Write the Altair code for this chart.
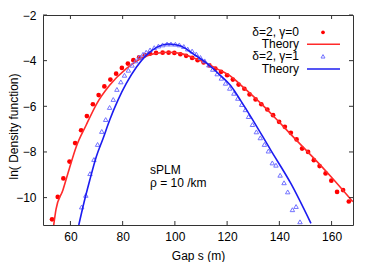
import altair as alt
import pandas as pd

# ---- data ----
RED_X = [52.96, 55.15, 57.3, 59.65, 61.8, 64.1, 66.3, 68.6, 70.8, 73.0, 75.3, 77.5, 79.7,
         82.0, 84.1, 86.3, 88.5, 90.5, 92.8, 95.3, 97.6, 99.8, 102.1, 104.3, 106.6, 108.7,
         111.0, 113.2, 115.5, 117.7, 120.0, 122.2, 124.4, 126.6, 128.6, 130.9, 133.1, 135.4,
         137.6, 139.9, 142.1, 144.4, 146.6, 148.7, 151.0, 153.2, 155.4, 157.7, 159.9, 162.1,
         164.4, 166.6]
RED_Y = [-10.95, -9.97, -9.16, -8.42, -7.61, -7.05, -6.43, -5.91, -5.51, -5.13, -4.83, -4.57,
         -4.32, -4.13, -3.98, -3.86, -3.76, -3.69, -3.66, -3.65, -3.65, -3.66, -3.72, -3.79,
         -3.88, -3.98, -4.08, -4.21, -4.35, -4.49, -4.64, -4.83, -5.05, -5.23, -5.48, -5.70,
         -5.91, -6.14, -6.39, -6.68, -6.90, -7.16, -7.45, -7.85, -8.00, -8.36, -8.62, -8.94,
         -9.26, -9.75, -9.67, -10.17]

BLUE_X = [64.3, 65.9, 67.5, 69.0, 70.4, 72.0, 73.5, 75.0, 76.4, 77.8, 79.3, 80.7, 82.2, 83.6,
          85.0, 86.4, 87.8, 89.0, 90.5, 92.1, 93.7, 95.3, 97.0, 98.5, 100.2, 101.7, 103.4,
          104.9, 106.6, 108.2, 109.8, 111.4, 113.0, 114.5, 116.2, 117.8, 119.4, 121.0, 122.6,
          124.1, 125.6, 127.0, 128.2, 129.7, 131.2, 132.7, 134.3, 135.8, 137.3, 138.7, 140.3,
          141.8, 143.2, 145.0, 146.4, 147.9]
BLUE_Y = [-10.41, -9.9, -8.95, -8.33, -7.67, -7.1, -6.58, -6.05, -5.70, -5.26, -4.93, -4.64,
          -4.42, -4.20, -4.01, -3.84, -3.72, -3.63, -3.53, -3.43, -3.36, -3.31, -3.27, -3.27,
          -3.28, -3.31, -3.38, -3.49, -3.58, -3.71, -3.86, -4.01, -4.19, -4.38, -4.58, -4.77,
          -4.99, -5.21, -5.43, -5.65, -5.92, -6.15, -6.45, -6.8, -7.12, -7.38, -7.67, -7.96,
          -8.48, -8.58, -9.02, -9.35, -9.75, -10.53, -10.39, -11.06]

RED_TH_X = [53.6, 54.5, 57.1, 59.6, 62.2, 66.0, 70.0, 75.0, 81.4, 87.8, 92.0, 97.0, 102.0,
            108.0, 112.4, 116.0, 120.8, 127.0, 133.6, 140.0, 146.5, 153.0, 159.8, 168.1]
RED_TH_Y = [-11.2, -10.5, -9.68, -8.72, -7.78, -6.83, -5.9, -5.08, -4.35, -3.86, -3.7, -3.63,
            -3.68, -3.92, -4.13, -4.35, -4.64, -5.25, -5.95, -6.7, -7.48, -8.25, -9.09, -10.18]

BLUE_TH_X = [63.2, 64.8, 67.4, 69.9, 72.5, 75.0, 78.2, 81.4, 85.3, 89.1, 93.0, 97.6, 102.0,
             107.0, 112.4, 117.0, 121.4, 125.2, 129.1, 136.7, 144.4, 152.1]
BLUE_TH_Y = [-11.2, -10.4, -9.24, -8.21, -7.41, -6.61, -5.73, -5.0, -4.28, -3.76, -3.42, -3.27,
             -3.35, -3.7, -4.13, -4.6, -5.1, -5.75, -6.46, -7.92, -9.38, -11.13]

XTICKS = [60, 80, 100, 120, 140, 160]
YTICKS = [-2, -4, -6, -8, -10]
LEGEND_LABELS = ["δ=2, γ=0", "Theory", "δ=2, γ=1", "Theory"]
NOTE_LINES = ["sPLM", "ρ = 10 /km"]
X_TITLE = "Gap s (m)"
Y_TITLE = "ln( Density function)"

FONT = "Liberation Sans"
W, H = 310, 210
RED, RED_LINE = "#ff0000", "#ff2a2a"
BLUE_LINE, BLUE_PT = "#1c1cf0", "#7373ff"

xs = alt.Scale(domain=[49.5, 168.2], nice=False, zero=False)
ys = alt.Scale(domain=[-11.2, -2], nice=False, zero=False)

red_df = pd.DataFrame({"x": RED_X, "y": RED_Y})
blue_df = pd.DataFrame({"x": BLUE_X, "y": BLUE_Y})
rth_df = pd.DataFrame({"x": RED_TH_X, "y": RED_TH_Y})
bth_df = pd.DataFrame({"x": BLUE_TH_X, "y": BLUE_TH_Y})

xax = alt.Axis(values=XTICKS, title=X_TITLE, ticks=False, grid=False, domain=False,
               labelPadding=6, titlePadding=8, labelFontSize=12, titleFontSize=12,
               labelFont=FONT, titleFont=FONT, labelColor="black", titleColor="black",
               titleFontWeight="normal")
yax = alt.Axis(values=YTICKS, title=Y_TITLE, ticks=False, grid=False, domain=False,
               labelPadding=7, labelFontSize=12, titleFontSize=12,
               titleX=-29.5, titleY=111, titleAngle=270, titleBaseline="middle",
               titleAlign="center",
               labelFont=FONT, titleFont=FONT, labelColor="black", titleColor="black",
               titleFontWeight="normal")

base_red = alt.Chart(red_df).mark_point(shape="circle", filled=True, size=22, color=RED,
                                         opacity=1, clip=True).encode(
    x=alt.X("x:Q", scale=xs, axis=xax), y=alt.Y("y:Q", scale=ys, axis=yax))
rth = alt.Chart(rth_df).mark_line(color=RED_LINE, strokeWidth=1.6, clip=True,
                                   interpolate="monotone").encode(
    x=alt.X("x:Q", scale=xs), y=alt.Y("y:Q", scale=ys))
blue = alt.Chart(blue_df).mark_point(shape="triangle-up", filled=False, size=20,
                                      color=BLUE_PT, strokeWidth=1, opacity=1, clip=True).encode(
    x=alt.X("x:Q", scale=xs), y=alt.Y("y:Q", scale=ys))
bth = alt.Chart(bth_df).mark_line(color=BLUE_LINE, strokeWidth=1.6, clip=True,
                                   interpolate="monotone").encode(
    x=alt.X("x:Q", scale=xs), y=alt.Y("y:Q", scale=ys))

# inward ticks on all four sides
xt_df = pd.DataFrame({"x": XTICKS})
yt_df = pd.DataFrame({"y": YTICKS})
TC = "#333333"
tb = alt.Chart(xt_df).mark_rule(color=TC, strokeWidth=1).encode(
    x=alt.X("x:Q", scale=xs), y=alt.value(H), y2=alt.value(H - 4))
tt = alt.Chart(xt_df).mark_rule(color=TC, strokeWidth=1).encode(
    x=alt.X("x:Q", scale=xs), y=alt.value(0), y2=alt.value(4))
tl = alt.Chart(yt_df).mark_rule(color=TC, strokeWidth=1).encode(
    y=alt.Y("y:Q", scale=ys), x=alt.value(0), x2=alt.value(4))
tr = alt.Chart(yt_df).mark_rule(color=TC, strokeWidth=1).encode(
    y=alt.Y("y:Q", scale=ys), x=alt.value(W - 4), x2=alt.value(W))

# legend (manual, top right inside the plot)
LX_TEXT, LX_SYM, LX_L1, LX_L2 = 256, 280, 264, 297
LROWS = [17.3, 29.3, 41.3, 54]
leg = []
for i, lab in enumerate(LEGEND_LABELS):
    leg.append(alt.Chart(pd.DataFrame({"t": [lab]})).mark_text(
        align="right", baseline="middle", font=FONT, fontSize=12, color="black").encode(
        x=alt.value(LX_TEXT), y=alt.value(LROWS[i]), text="t:N"))
one = pd.DataFrame({"a": [0]})
leg.append(alt.Chart(one).mark_point(shape="circle", filled=True, size=14, color=RED,
                                      opacity=1).encode(x=alt.value(LX_SYM), y=alt.value(LROWS[0])))
leg.append(alt.Chart(one).mark_rule(color=RED_LINE, strokeWidth=1.6).encode(
    x=alt.value(LX_L1), x2=alt.value(LX_L2), y=alt.value(LROWS[1])))
leg.append(alt.Chart(one).mark_point(shape="triangle-up", filled=False, size=16, color=BLUE_PT,
                                      strokeWidth=1, opacity=1).encode(
    x=alt.value(LX_SYM), y=alt.value(LROWS[2])))
leg.append(alt.Chart(one).mark_rule(color=BLUE_LINE, strokeWidth=1.6).encode(
    x=alt.value(LX_L1), x2=alt.value(LX_L2), y=alt.value(LROWS[3])))

# annotation
notes = []
for i, t in enumerate(NOTE_LINES):
    notes.append(alt.Chart(pd.DataFrame({"t": [t]})).mark_text(
        align="left", baseline="alphabetic", font=FONT, fontSize=12, color="black").encode(
        x=alt.value(107), y=alt.value([159.3, 171.8][i]), text="t:N"))

chart = alt.layer(base_red, rth, blue, bth, tb, tt, tl, tr, *leg, *notes).properties(
    width=W, height=H,
    autosize=alt.AutoSizeParams(type="none"),
    padding={"left": 35, "top": 7, "right": 13, "bottom": 39},
    background="white",
).configure_view(stroke="#333333", strokeWidth=1)

chart.save("out.html", embed_options={"renderer": "svg", "actions": False})
